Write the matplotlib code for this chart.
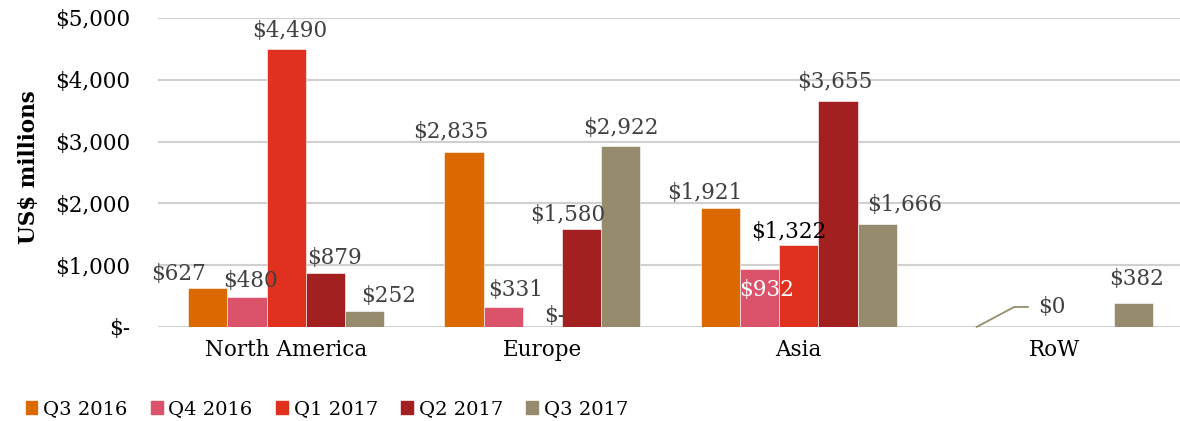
import numpy as np
import matplotlib.pyplot as plt
from matplotlib.patches import Patch
from matplotlib.ticker import FuncFormatter

plt.rcParams['font.family'] = ['DejaVu Serif']

# data
regions = ["North America", "Europe", "Asia", "RoW"]
quarters = ["Q3 2016", "Q4 2016", "Q1 2017", "Q2 2017", "Q3 2017"]
q3_2016 = [627, 2835, 1921, 0]
q4_2016 = [480, 331, 932, np.nan]
q1_2017 = [4490, 0, 1322, np.nan]
q2_2017 = [879, 1580, 3655, np.nan]
q3_2017 = [252, 2922, 1666, 382]
series = [q3_2016, q4_2016, q1_2017, q2_2017, q3_2017]
colors = ["#DC6900", "#DB536A", "#E0301E", "#A32020", "#968C6D"]

# label offsets in pixels (dx, dy of label centre from bar top), placed by hand like the original
offsets = {
    (0, 0): (-29, 14), (0, 1): (3, 16), (0, 2): (3, 18), (0, 3): (9, 15), (0, 4): (24, 15),
    (1, 0): (-13, 20), (1, 1): (12, 17), (1, 2): (12, 11), (1, 3): (-14, 14), (1, 4): (0, 18),
    (2, 0): (-16, 15), (2, 1): (7, -21), (2, 2): (-10, 13), (2, 3): (-3, 19), (2, 4): (28, 19),
    (3, 0): (75, 20), (3, 4): (3, 24),
}
label_colors = {(2, 1): "white", (2, 2): "black"}


def money(v):
    if v == 0:
        return "$-"
    return "${:,.0f}".format(v)


fig = plt.figure(figsize=(11.8, 4.21), dpi=100)
ax = fig.add_axes([0.134, 0.2233, 0.8686, 0.734])

x = np.arange(len(regions))
w = 0.153
for j, vals in enumerate(series):
    pos = x + (j - 2) * w
    ax.bar(pos, vals, width=w, color=colors[j], edgecolor="white", linewidth=0.4,
           zorder=3, label=quarters[j])
    for i, v in enumerate(vals):
        if (i, j) not in offsets:
            continue
        dx, dy = offsets[(i, j)]
        if i == 3 and j == 0:
            # $0 label with leader line
            ax.annotate("$0", xy=(pos[i], 0), xytext=(dx, dy), textcoords="offset pixels",
                        ha="center", va="center", fontsize=15.5, color="#404040",
                        arrowprops=dict(arrowstyle="-", color="#968C6D", lw=1.3,
                                        connectionstyle="angle,angleA=0,angleB=28,rad=0",
                                        shrinkA=5, shrinkB=0))
            continue
        ax.annotate(money(v), xy=(pos[i], v), xytext=(dx, dy), textcoords="offset pixels",
                    ha="center", va="center", fontsize=15.5,
                    color=label_colors.get((i, j), "#404040"), zorder=5)

ax.set_ylim(0, 5000)
ax.set_xlim(-0.5, 3.5)
ax.set_yticks(np.arange(0, 5001, 1000))
ax.yaxis.set_major_formatter(FuncFormatter(lambda v, p: money(v)))
ax.set_xticks(x)
ax.set_xticklabels(regions)
ax.tick_params(axis="both", length=0, labelsize=15.5, colors="black")
ax.tick_params(axis="y", pad=20)
ax.tick_params(axis="x", pad=9)
ax.grid(axis="y", color="#D0D0D0", linewidth=1.5, zorder=0)
for s in ["top", "right", "left", "bottom"]:
    ax.spines[s].set_visible(False)
ax.set_ylabel("US$ millions", fontsize=15.5, fontweight="bold")
ax.yaxis.set_label_coords(-0.115, 0.518)

handles = [Patch(color=c) for c in colors]
fig.legend(handles, quarters, loc="lower left", bbox_to_anchor=(0.007, -0.035), ncol=5,
           frameon=False, fontsize=14, handlelength=0.6, handleheight=0.6,
           handletextpad=0.3, columnspacing=1.2)

fig.savefig("out.png", dpi=100)
